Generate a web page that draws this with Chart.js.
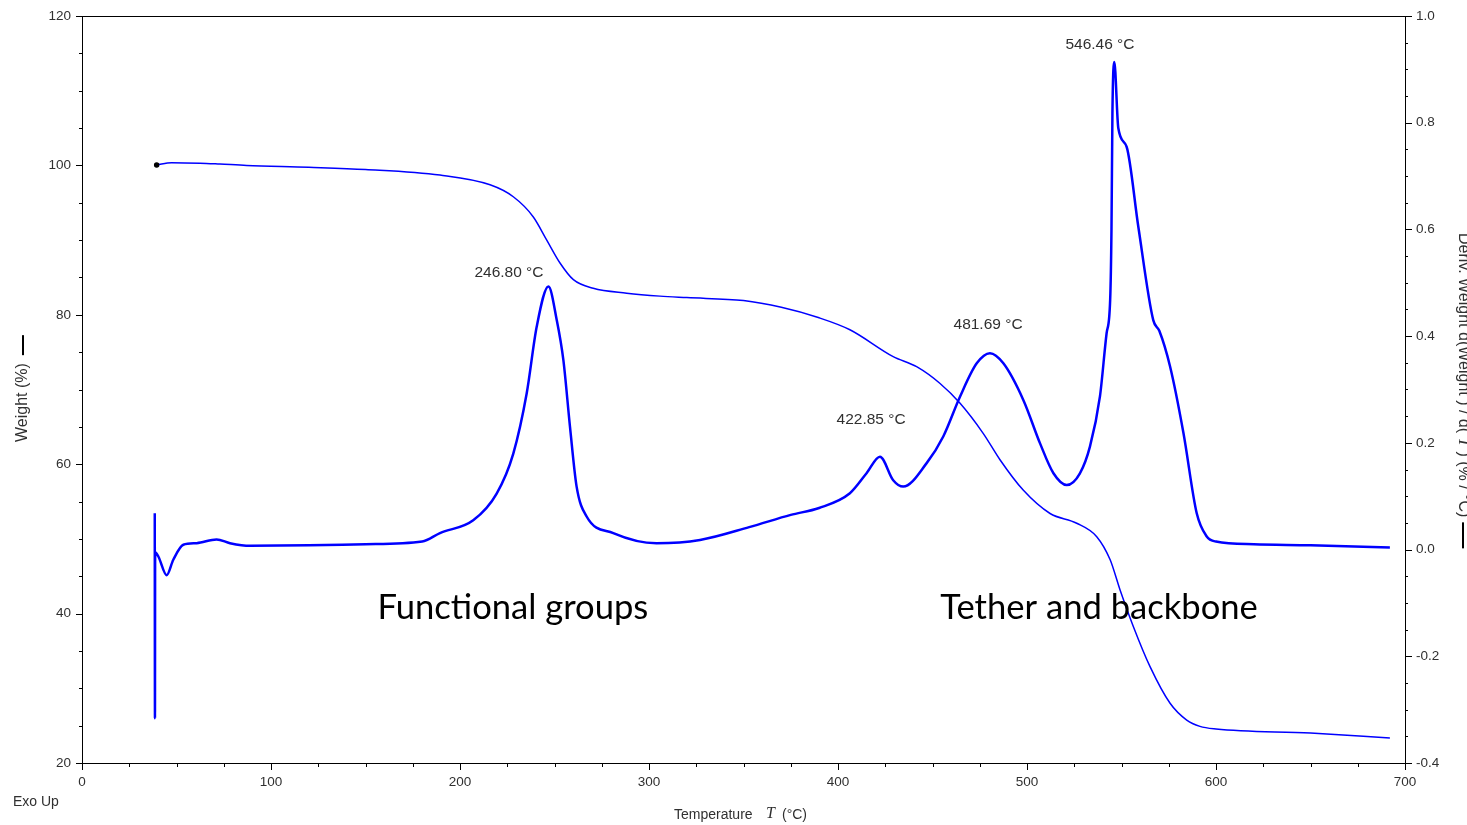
<!DOCTYPE html>
<html>
<head>
<meta charset="utf-8">
<script src="https://cdn.jsdelivr.net/npm/chart.js@4.4.1/dist/chart.umd.min.js"></script>
<style>
  html, body { margin: 0; padding: 0; background: #fff; }
  #wrap { width: 1467px; height: 825px; }
</style>
</head>
<body>
<div id="wrap"><canvas id="tgaChart" width="1467" height="825"></canvas></div>
<script>
// --- data ---
const weightT = [39.5, 47.4, 62.4, 73, 87.1, 120, 150, 189.4, 215.9, 228.2,
  238.8, 245.9, 253, 260, 270.5, 288.2, 305.8, 320, 350, 370,
  390, 406.3, 429.2, 441.6, 454, 464.6, 476.9, 485.7, 498.1, 512.2,
  526.3, 536.9, 544, 549.2, 556.3, 565.1, 575.7, 584.5, 591.5, 600,
  650, 692];
const weightPct = [100.05, 100.37, 100.3, 100.18, 100.0, 99.75, 99.45, 98.7, 97.4, 95.8,
  93.1, 90.0, 86.9, 84.7, 83.55, 82.9, 82.5, 82.3, 81.9, 81.0,
  79.6, 78.0, 74.4, 73.05, 70.8, 68.15, 64.1, 60.6, 56.5, 53.4,
  52.1, 50.3, 47.2, 43.2, 38.25, 32.9, 28.0, 25.75, 24.9, 24.55,
  24.0, 23.35];

const derivT = [38.5, 38.6, 38.7, 40.4, 44.8, 48.3, 53.6, 60.7, 71.2, 78.3,
  88.9, 120, 150, 180, 189.4, 207, 219.4, 228.2, 235.3, 240.6,
  246.8, 251.2, 254.7, 258.2, 261.7, 267, 281.1, 304, 327, 353,
  375, 390, 406.3, 415.1, 422.2, 429.2, 434.5, 446.9, 455.7, 464.6,
  473.4, 480.4, 487.5, 498.1, 506.9, 514, 521, 528, 533.3, 538.6,
  542.1, 544, 544.7, 545.2, 546.2, 548.3, 552.7, 558.9, 566.8, 570,
  575.7, 582.8, 589.8, 595, 600, 620, 650, 692];
const derivVal = [0.068, -0.316, -0.005, -0.013, -0.048, -0.019, 0.009, 0.012, 0.019, 0.012,
  0.007, 0.008, 0.010, 0.015, 0.031, 0.055, 0.105, 0.18, 0.293, 0.418,
  0.493, 0.43, 0.355, 0.23, 0.118, 0.062, 0.031, 0.012, 0.018, 0.042,
  0.065, 0.078, 0.1055, 0.143, 0.174, 0.130, 0.118, 0.162, 0.212, 0.287,
  0.349, 0.368, 0.349, 0.280, 0.199, 0.143, 0.121, 0.143, 0.193, 0.287,
  0.405, 0.468, 0.6, 0.818, 0.914, 0.79, 0.755, 0.605, 0.43, 0.41,
  0.343, 0.218, 0.068, 0.025, 0.015, 0.01, 0.008, 0.004];

// peak labels (text, label centre in T / deriv units)
const peakLabels = ['246.80 °C', '422.85 °C', '481.69 °C', '546.46 °C'];
const peakLabelT = [225.9, 417.5, 479.4, 538.6];
const peakLabelV = [0.518, 0.243, 0.421, 0.947];

// region labels (text, centre T, baseline weight %)
const regionLabels = ['Functional groups', 'Tether and backbone'];
const regionT = [228.0, 538.1];
const regionW = [39.3, 39.3];

const lineBlue = '#0000ff';
const textGrey = '#303030';
const sans = '"Liberation Sans", Arial, sans-serif';

const weightPoints = weightT.map((t, i) => ({ x: t, y: weightPct[i] }));
const derivPoints = derivT.map((t, i) => ({ x: t, y: derivVal[i] }));

// ticks, frame, titles and text labels
const decorPlugin = {
  id: 'decor',
  afterDraw(chart) {
    const ctx = chart.ctx;
    const a = chart.chartArea;
    const xs = chart.scales.x, yl = chart.scales.y, yr = chart.scales.y1;
    ctx.save();
    ctx.strokeStyle = '#000';
    ctx.lineWidth = 1;
    ctx.strokeRect(a.left + 0.5, a.top + 0.5, a.right - a.left, a.bottom - a.top);

    ctx.beginPath();
    for (let t = 0; t <= 700; t += 25) {
      const px = Math.round(xs.getPixelForValue(t)) + 0.5;
      ctx.moveTo(px, a.bottom);
      ctx.lineTo(px, a.bottom + (t % 100 === 0 ? 7 : 4));
    }
    for (let v = 20; v <= 120; v += 5) {
      const py = Math.round(yl.getPixelForValue(v)) + 0.5;
      ctx.moveTo(a.left, py);
      ctx.lineTo(a.left - (v % 20 === 0 ? 6 : 3), py);
    }
    for (let i = -8; i <= 20; i++) {
      const py = Math.round(yr.getPixelForValue(i * 0.05)) + 0.5;
      ctx.moveTo(a.right, py);
      ctx.lineTo(a.right + (i % 4 === 0 ? 7 : 3), py);
    }
    ctx.stroke();

    // peak temperature labels
    ctx.fillStyle = textGrey;
    ctx.font = '15.5px ' + sans;
    ctx.textAlign = 'center';
    ctx.textBaseline = 'middle';
    peakLabels.forEach((s, i) => {
      ctx.fillText(s, xs.getPixelForValue(peakLabelT[i]), yr.getPixelForValue(peakLabelV[i]));
    });

    // region labels
    ctx.fillStyle = '#000';
    ctx.font = '34.6px Lato, "Open Sans", sans-serif';
    ctx.textBaseline = 'alphabetic';
    regionLabels.forEach((s, i) => {
      ctx.fillText(s, xs.getPixelForValue(regionT[i]), yl.getPixelForValue(regionW[i]));
    });

    // x title: Temperature T (°C)
    ctx.fillStyle = textGrey;
    ctx.textAlign = 'left';
    ctx.textBaseline = 'middle';
    ctx.font = '14px ' + sans;
    ctx.fillText('Temperature', 674, 815);
    ctx.font = 'italic 16px "Liberation Serif", serif';
    ctx.fillText('T', 766, 814);
    ctx.font = '14px ' + sans;
    ctx.fillText('(°C)', 782, 815);

    // Exo Up
    ctx.fillText('Exo Up', 13, 802);

    // left title
    ctx.save();
    ctx.translate(23, 442);
    ctx.rotate(-Math.PI / 2);
    ctx.font = '16px ' + sans;
    ctx.fillText('Weight (%)', 0, 0);
    const wl = ctx.measureText('Weight (%)').width;
    ctx.fillStyle = '#000';
    ctx.fillRect(wl + 8, -1, 20, 2);
    ctx.restore();

    // right title (clipped at the page edge)
    ctx.save();
    ctx.translate(1463, 233);
    ctx.rotate(Math.PI / 2);
    let rx = 0;
    const parts = [
      ['Deriv. Weight d(Weight ) / d( ', '16px ' + sans],
      ['T', 'italic 17px "Liberation Serif", serif'],
      [' ) (% / °C)', '16px ' + sans]
    ];
    parts.forEach(p => {
      ctx.font = p[1];
      ctx.fillText(p[0], rx, 0);
      rx += ctx.measureText(p[0]).width;
    });
    ctx.fillStyle = '#000';
    ctx.fillRect(rx + 5, -1, 26, 2);
    ctx.restore();

    ctx.restore();
  }
};

// keep the plot box fixed: no automatic label padding from the axes
const fixYPad = w => s => { s.width = w; s.paddingTop = 0; s.paddingBottom = 0; };

const ctx = document.getElementById('tgaChart').getContext('2d');
new Chart(ctx, {
  type: 'line',
  data: {
    datasets: [
      {
        label: 'Weight',
        data: weightPoints,
        yAxisID: 'y',
        borderColor: lineBlue,
        borderWidth: 1.5,
        cubicInterpolationMode: 'monotone',
        pointRadius: c => (c.dataIndex === 0 ? 2 : 0),
        pointBackgroundColor: '#000',
        pointBorderColor: '#000',
        fill: false
      },
      {
        label: 'Deriv. Weight',
        data: derivPoints,
        yAxisID: 'y1',
        borderColor: lineBlue,
        borderWidth: 2.5,
        cubicInterpolationMode: 'monotone',
        pointRadius: 0,
        fill: false
      }
    ]
  },
  options: {
    responsive: false,
    animation: false,
    layout: { padding: { top: 16, left: 0, right: 0, bottom: 0 } },
    plugins: {
      legend: { display: false },
      tooltip: { enabled: false }
    },
    scales: {
      x: {
        type: 'linear',
        min: 0, max: 700,
        grid: { display: false, drawTicks: false },
        border: { display: false },
        ticks: { stepSize: 100, padding: 11, color: textGrey, font: { family: sans, size: 13.5 }, maxRotation: 0 },
        afterFit: s => { s.height = 62; s.paddingLeft = 0; s.paddingRight = 0; }
      },
      y: {
        position: 'left',
        min: 20, max: 120,
        grid: { display: false, drawTicks: false },
        border: { display: false },
        ticks: { stepSize: 20, padding: 11, color: textGrey, font: { family: sans, size: 13.5 } },
        afterFit: fixYPad(82)
      },
      y1: {
        position: 'right',
        min: -0.4, max: 1.0,
        grid: { display: false, drawTicks: false },
        border: { display: false },
        ticks: {
          stepSize: 0.2, padding: 11, color: textGrey, font: { family: sans, size: 13.5 },
          callback: v => (Math.abs(v) < 1e-9 ? '0.0' : v.toFixed(1))
        },
        afterFit: fixYPad(62)
      }
    }
  },
  plugins: [decorPlugin]
});
</script>
</body>
</html>
